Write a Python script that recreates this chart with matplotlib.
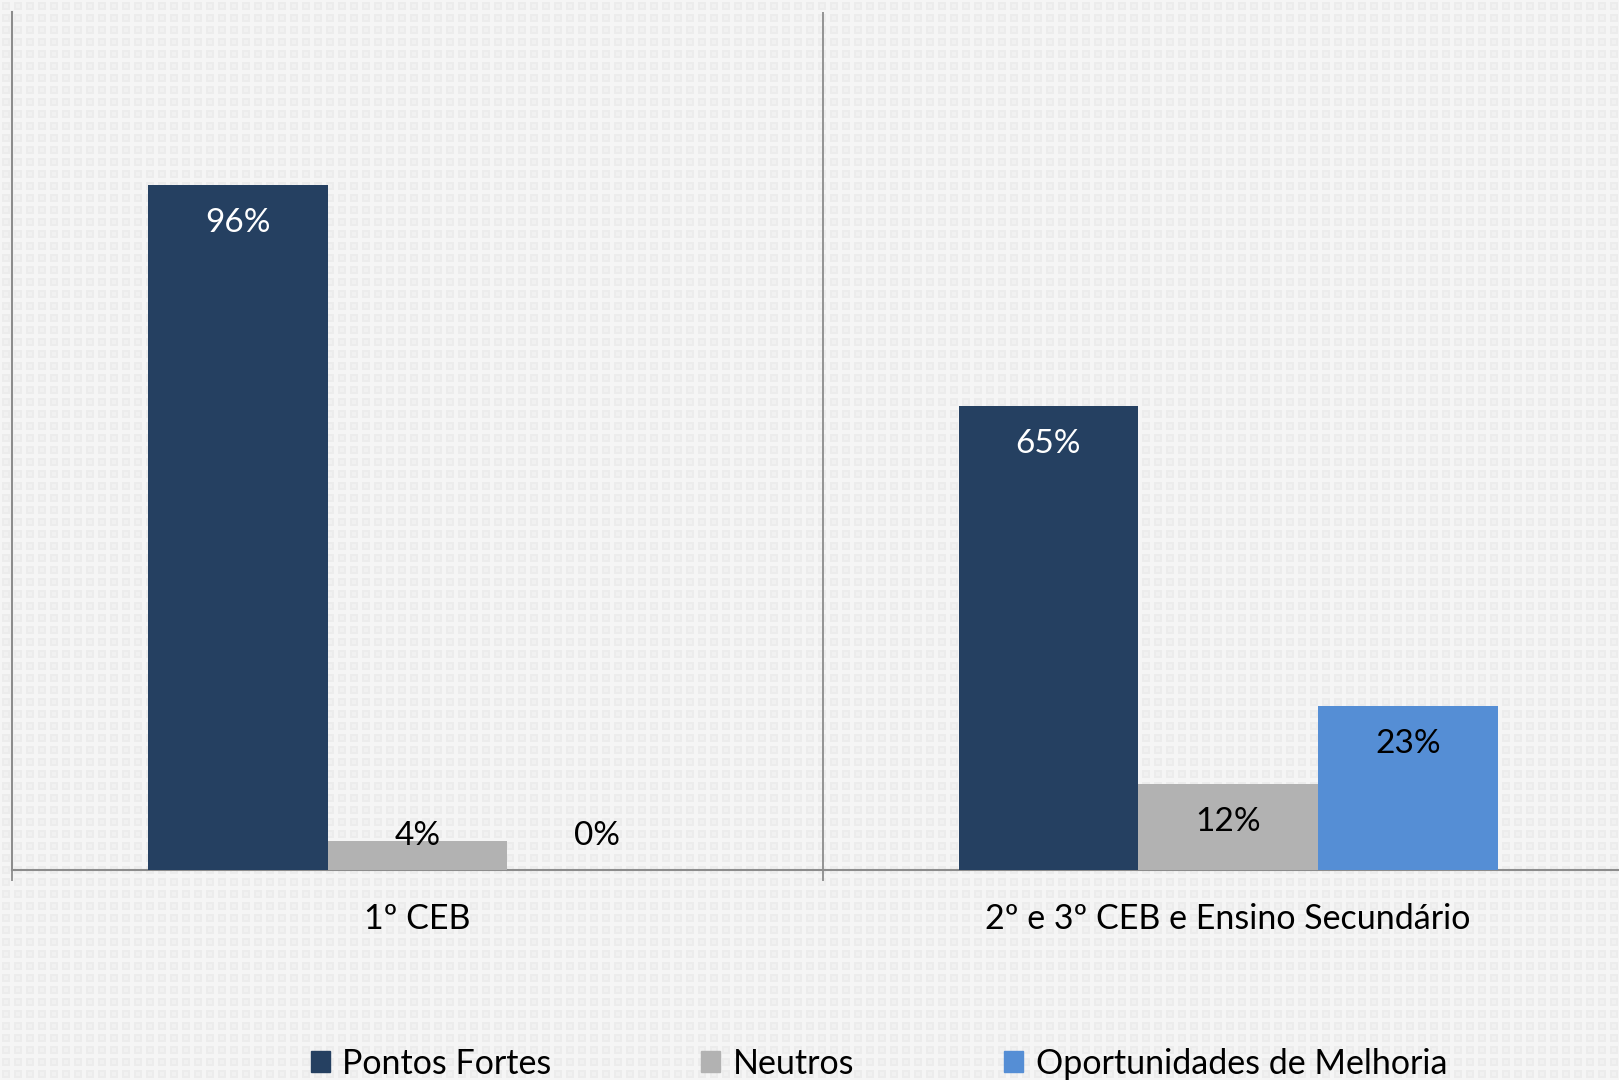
import numpy as np
import matplotlib
matplotlib.use("Agg")
import matplotlib.pyplot as plt

categories = ["1º CEB", "2º e 3º CEB e Ensino Secundário"]
series = ["Pontos Fortes", "Neutros", "Oportunidades de Melhoria"]
values = {
    "Pontos Fortes": [96, 65],
    "Neutros": [4, 12],
    "Oportunidades de Melhoria": [0, 23],
}
colours = ["#254061", "#B2B2B2", "#558ED5"]
label_colours = ["white", "black", "black"]

plt.rcParams['font.family'] = ['Lato', 'DejaVu Sans']

W, H = 1619, 1080
fig = plt.figure(figsize=(W / 100, H / 100), dpi=100)

# textured background (small square pattern)
tile = np.full((12, 12), 0.96)
tile[2:10, 2:10] = 0.925
tile[4:8, 4:8] = 0.945
bg = np.tile(tile, (H // 12 + 1, W // 12 + 1))[:H, :W]
fig.figimage(bg, cmap="gray", vmin=0, vmax=1, zorder=-10)

ax = fig.add_axes([12.4 / W, 210 / H, 1621 / W, 858 / H])
ax.patch.set_alpha(0)

x = np.arange(len(categories))
width = 0.2217
axis_grey = "#8C8C8C"

for i, name in enumerate(series):
    pos = x + (i - 1) * width
    vals = values[name]
    ax.bar(pos, vals, width, color=colours[i], zorder=3)
    for px, v in zip(pos, vals):
        ly = max(v - 5.3, 4.8)
        ax.text(px, ly, f"{v}%", ha="center", va="center", fontsize=24,
                color=label_colours[i], zorder=4)

ax.set_xlim(-0.5, 1.5)
ax.set_ylim(0, 120.2)

# separator between categories
ax.axvline(0.5, color=axis_grey, lw=1.3, zorder=1)

for s in ["top", "right"]:
    ax.spines[s].set_visible(False)
for s in ["left", "bottom"]:
    ax.spines[s].set_color(axis_grey)
    ax.spines[s].set_linewidth(1.5)

ax.set_yticks([])
ax.set_xticks(x)
ax.set_xticklabels(categories, fontsize=24.5)
ax.set_xticks([-0.5, 0.5, 1.5], minor=True)
ax.tick_params(axis="x", which="major", length=0, pad=24)
ax.tick_params(axis="x", which="minor", length=8, width=1.3, color=axis_grey,
               direction="out")

handles = [plt.Rectangle((0, 0), 1, 1, color=c) for c in colours]
fig.legend(handles, series, loc="center", bbox_to_anchor=(0.543, 0.015),
           ncol=3, frameon=False, fontsize=24.5, handlelength=0.56,
           handleheight=0.56, handletextpad=0.37, columnspacing=4.4)

fig.savefig("out.png", dpi=100)
